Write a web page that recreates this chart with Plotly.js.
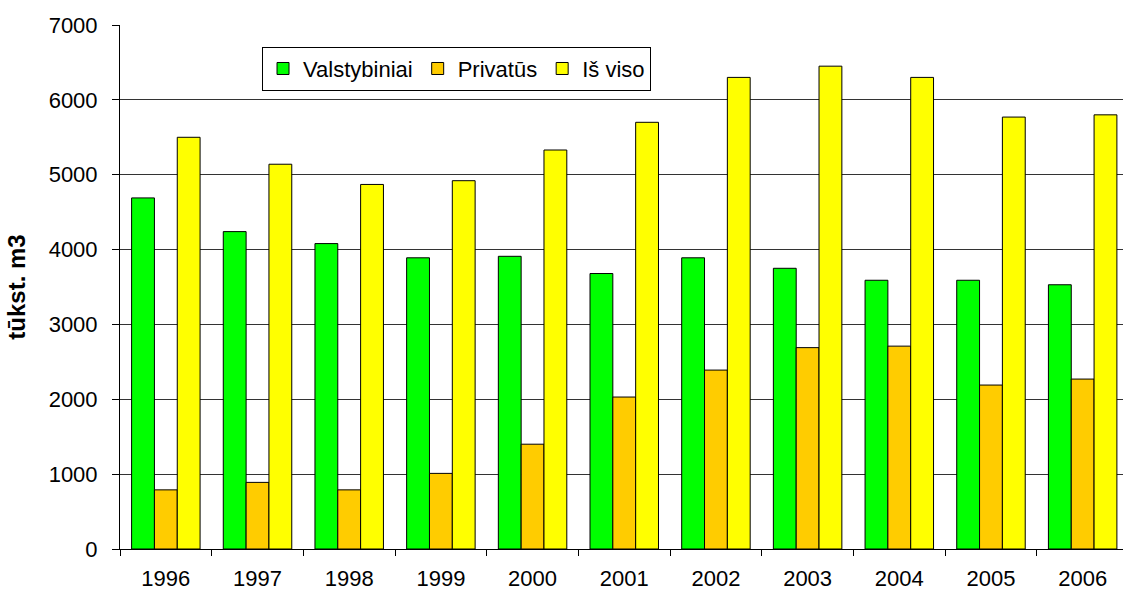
<!DOCTYPE html>
<html>
<head>
<meta charset="utf-8">
<script src="https://cdn.plot.ly/plotly-3.0.1.min.js"></script>
<style>html,body{margin:0;padding:0;background:#fff;overflow:hidden}#chart{width:1123px;height:591px}</style>
</head>
<body>
<div id="chart"></div>
<script>
const years = ['1996','1997','1998','1999','2000','2001','2002','2003','2004','2005','2006'];
const valstybiniai = [4690, 4240, 4080, 3890, 3910, 3680, 3890, 3750, 3590, 3590, 3530];
const privatus = [790, 890, 790, 1010, 1400, 2030, 2390, 2690, 2710, 2190, 2270];
const isViso = [5500, 5140, 4870, 4920, 5330, 5700, 6300, 6450, 6300, 5770, 5800];
const seriesNames = ['Valstybiniai', 'Privatūs', 'Iš viso'];
const yTicks = [0, 1000, 2000, 3000, 4000, 5000, 6000, 7000];

const colors = ['#00FF00', '#FFCC00', '#FFFF00'];
const data = [valstybiniai, privatus, isViso].map((vals, i) => ({
  type: 'bar',
  x: years,
  y: vals,
  name: seriesNames[i],
  marker: {color: colors[i], line: {color: '#000', width: 1}},
  hoverinfo: 'x+y+name'
}));

const font = 'Arial, "Liberation Sans", sans-serif';
const layout = {
  width: 1123, height: 591,
  margin: {l: 120, r: 0, t: 25, b: 42},
  paper_bgcolor: '#fff', plot_bgcolor: '#fff',
  barmode: 'group',
  bargap: 0.253, bargroupgap: 0,
  font: {family: font, size: 22, color: '#000'},
  xaxis: {
    type: 'category',
    range: [-0.5, 10.44],
    tickson: 'boundaries',
    ticks: 'outside', ticklen: 6, tickcolor: '#000',
    showline: true, linecolor: '#000', linewidth: 1,
    showgrid: false, zeroline: false,
    tickfont: {family: font, size: 22, color: '#000'},
    ticklabelstandoff: 10
  },
  yaxis: {
    range: [0, 7000],
    tickvals: yTicks,
    ticktext: yTicks.map(String),
    ticks: 'outside', ticklen: 7, tickcolor: '#000',
    showline: true, linecolor: '#000', linewidth: 1,
    showgrid: true, gridcolor: '#333', gridwidth: 1,
    zeroline: false,
    tickfont: {family: font, size: 22, color: '#000'},
    ticklabelstandoff: 10,
    title: {text: '<b>tūkst. m3</b>', font: {family: font, size: 24, color: '#000'}, standoff: 16}
  },
  legend: {
    orientation: 'h',
    x: 0.1416, y: 0.9586, xanchor: 'left', yanchor: 'top',
    bgcolor: '#fff', bordercolor: '#000', borderwidth: 1,
    font: {family: font, size: 22, color: '#000'},
    itemwidth: 30,
    traceorder: 'normal'
  },
  showlegend: true
};

Plotly.newPlot('chart', data, layout, {displayModeBar: false, staticPlot: true});
</script>
</body>
</html>
